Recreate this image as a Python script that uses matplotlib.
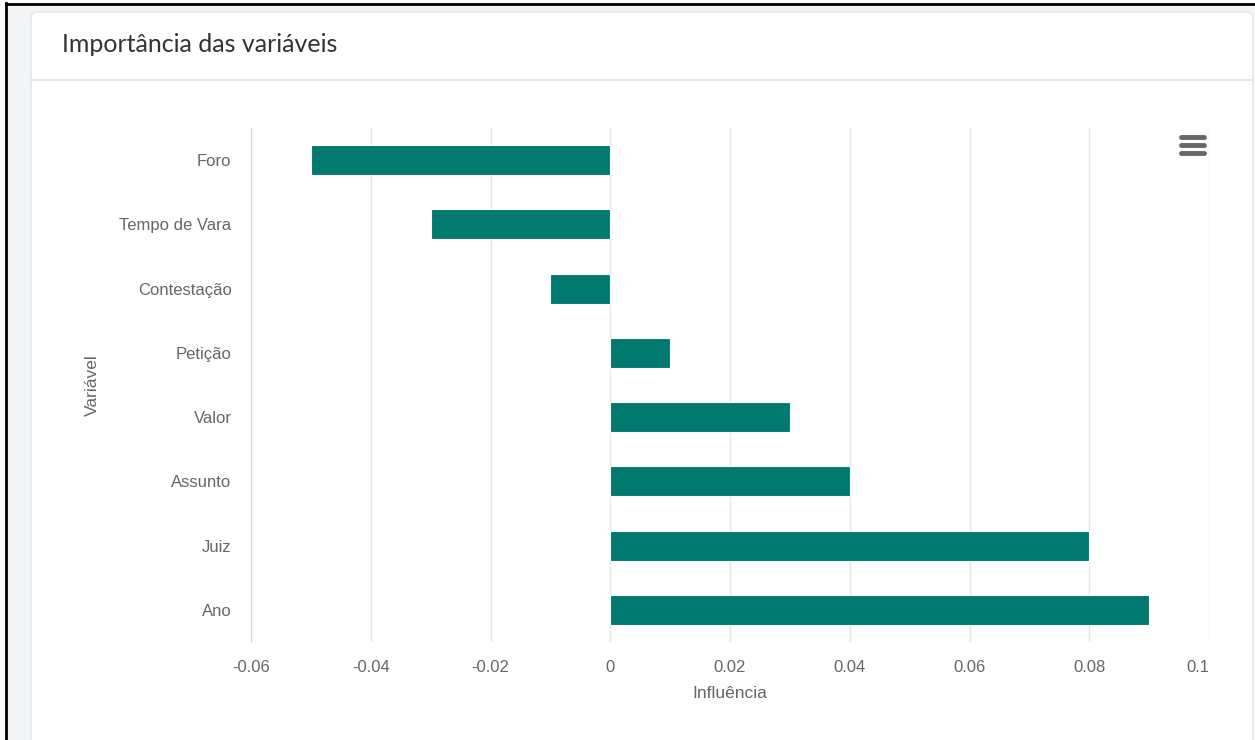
import matplotlib.pyplot as plt
from matplotlib.patches import FancyBboxPatch, Rectangle

# Data
variables = ['Foro', 'Tempo de Vara', 'Contestação', 'Petição', 'Valor', 'Assunto', 'Juiz', 'Ano']
influence = [-0.05, -0.03, -0.01, 0.01, 0.03, 0.04, 0.08, 0.09]
x_ticks = [-0.06, -0.04, -0.02, 0, 0.02, 0.04, 0.06, 0.08, 0.1]
x_tick_labels = ['-0.06', '-0.04', '-0.02', '0', '0.02', '0.04', '0.06', '0.08', '0.1']

W, H = 1255, 740
fig = plt.figure(figsize=(W / 100, H / 100), dpi=100)
fig.patch.set_facecolor('white')

# background / card drawn in pixel coordinates
bg = fig.add_axes([0, 0, 1, 1])
bg.set_xlim(0, W)
bg.set_ylim(H, 0)
bg.axis('off')
bg.add_patch(Rectangle((6, 3), W, H, facecolor='#f4f5f7', edgecolor='none'))
bg.plot([6, 6], [3, H], color='black', lw=2)
bg.plot([6, W], [3.5, 3.5], color='black', lw=2)
bg.add_patch(FancyBboxPatch((31, 12), 1222, 800, boxstyle='round,pad=0,rounding_size=6',
                            facecolor='white', edgecolor='#e3e5e8', lw=1))
bg.plot([31, 1253], [80, 80], color='#e2e2e2', lw=1.2)
bg.text(62, 45, 'Importância das variáveis', fontsize=18, family='Lato',
        color='#333333', va='center', ha='left')
# hamburger menu icon
for yy in [137, 145, 153]:
    bg.plot([1181, 1204], [yy, yy], color='#666666', lw=3.5, solid_capstyle='round')

# chart
ax = fig.add_axes([251 / W, 1 - 642 / H, (1209 - 251) / W, (642 - 128) / H])
ax.set_facecolor('none')
y = list(range(len(variables)))
ax.barh(y, influence, height=0.467, color='#007a70', edgecolor='white', linewidth=0.8, zorder=3)
ax.set_ylim(len(variables) - 0.5, -0.5)
ax.set_xlim(-0.06, 0.1)
ax.set_yticks(y)
ax.set_yticklabels(variables)
ax.set_xticks(x_ticks)
ax.set_xticklabels(x_tick_labels)
ax.get_xticklabels()[-1].set_horizontalalignment('right')
ax.grid(axis='x', color='#e6e6e6', lw=1, zorder=0)
for s in ['top', 'right', 'bottom']:
    ax.spines[s].set_visible(False)
ax.spines['left'].set_color('#ccd6eb')
ax.tick_params(length=0, labelsize=12, labelcolor='#666666', labelfontfamily='Liberation Sans')
ax.tick_params(axis='y', pad=14)
ax.tick_params(axis='x', pad=13)
ax.set_xlabel('Influência', fontsize=12.5, color='#666666', family='Liberation Sans', labelpad=8)
ax.set_ylabel('Variável', fontsize=12.5, color='#666666', family='Liberation Sans', labelpad=14)

fig.savefig('out.png', dpi=100)
